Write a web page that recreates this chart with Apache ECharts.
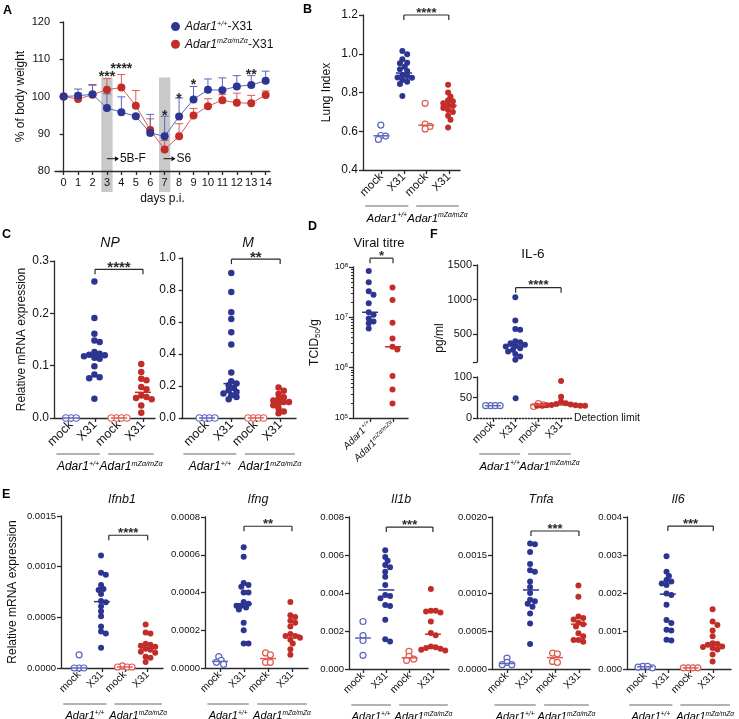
<!DOCTYPE html>
<html>
<head>
<meta charset="utf-8">
<script src="https://cdn.jsdelivr.net/npm/echarts@6/dist/echarts.min.js"></script>
<style>
  html, body { margin: 0; padding: 0; background: #fff; }
  #main { width: 739px; height: 719px; }
</style>
</head>
<body>
<div id="main"></div>
<script>
// ---------- data ----------
// A: body weight (% of day 0), mean and upper end of error bar
const days = [0, 1, 2, 3, 4, 5, 6, 7, 8, 9, 10, 11, 12, 13, 14];
const wtWeight = [100.0, 100.2, 100.6, 96.9, 95.8, 94.7, 90.2, 89.3, 94.6, 99.2, 101.8, 101.7, 102.7, 103.1, 104.2];
const wtWeightTop = [100.0, 102.0, 103.2, 100.7, 99.9, 95.0, 95.2, 94.7, 99.6, 102.7, 104.7, 105.0, 105.6, 105.6, 106.8];
const mzaWeight = [100.0, 99.3, 100.5, 101.8, 102.4, 97.5, 91.0, 85.8, 89.3, 94.9, 97.4, 99.0, 98.3, 98.2, 100.4];
const mzaWeightTop = [100.0, 100.9, 103.0, 104.8, 105.9, 101.6, 94.0, 88.2, 92.7, 96.8, 99.4, 100.5, 100.9, 100.3, 101.5];
const sigDays = [3, 4, 7, 8, 9, 13];
const sigLevel = [106.3, 108.4, 95.8, 100.3, 104.1, 106.8];
const sigText = ['***', '****', '*', '*', '*', '**'];
const shadedDays = [3, 7];
const shadedTop = 105.1;

// B: lung index
const lungWtMock = [0.632, 0.578, 0.575, 0.558];
const lungWtX31 = [1.014, 0.997, 0.971, 0.954, 0.951, 0.933, 0.920, 0.911, 0.890, 0.885, 0.878, 0.876, 0.865, 0.856, 0.844, 0.782];
const lungMzaMock = [0.744, 0.637, 0.625, 0.612];
const lungMzaX31 = [0.84, 0.80, 0.78, 0.76, 0.755, 0.745, 0.735, 0.73, 0.72, 0.71, 0.70, 0.68, 0.66, 0.62];

// C: viral RNA
const npWtMock = [0, 0, 0];
const npWtX31 = [0.261, 0.191, 0.161, 0.148, 0.145, 0.126, 0.123, 0.121, 0.120, 0.118, 0.115, 0.113, 0.099, 0.083, 0.078, 0.076, 0.037];
const npMzaMock = [0, 0, 0, 0];
const npMzaX31 = [0.103, 0.088, 0.075, 0.072, 0.059, 0.055, 0.043, 0.040, 0.038, 0.036, 0.024, 0.010];
const mWtMock = [0, 0, 0, 0];
const mWtX31 = [0.906, 0.787, 0.661, 0.619, 0.536, 0.460, 0.285, 0.230, 0.215, 0.205, 0.188, 0.174, 0.163, 0.153, 0.142, 0.132, 0.117];
const mMzaMock = [0, 0, 0, 0];
const mMzaX31 = [0.19, 0.17, 0.15, 0.13, 0.12, 0.11, 0.10, 0.10, 0.09, 0.08, 0.06, 0.04, 0.03];

// D: viral titre (TCID50/g)
const titreWt = [8.3e7, 5.0e7, 3.3e7, 2.8e7, 1.9e7, 1.26e7, 1.12e7, 9.5e6, 8.3e6, 7.6e6, 6.0e6];
const titreMza = [3.9e7, 2.2e7, 7.8e6, 3.8e6, 2.6e6, 2.3e6, 6.8e5, 3.7e5, 1.95e5];

// F: IL-6 (pg/ml)
const il6pWtMock = [30, 30, 30, 30];
const il6pWtX31 = [1034, 698, 578, 564, 400, 386, 370, 348, 330, 324, 300, 276, 252, 214, 180, 132, 48];
const il6pMzaMock = [28, 32, 35];
const il6pMzaX31 = [90, 52, 40, 36, 34, 33, 32, 31, 31, 30, 30, 30, 30];

// E: cytokine mRNA
const ifnbWtMock = [0.00013, 0, 0, 0];
const ifnbWtX31 = [0.00111, 0.00094, 0.00092, 0.00082, 0.00078, 0.00077, 0.00073, 0.00066, 0.00065, 0.00061, 0.00056, 0.00051, 0.00041, 0.00036, 0.00034, 0.00020];
const ifnbMzaMock = [0.00002, 0.00001, 0.00001, 0.00001];
const ifnbMzaX31 = [0.00043, 0.00035, 0.00034, 0.00024, 0.00023, 0.00022, 0.00021, 0.00019, 0.00018, 0.00016, 0.00015, 0.00011, 0.00010, 0.00006];
const ifngWtMock = [0.00006, 0.00004, 0.00003, 0.00002];
const ifngWtX31 = [0.00064, 0.00059, 0.00045, 0.00044, 0.00043, 0.00040, 0.00040, 0.00035, 0.00034, 0.00033, 0.00033, 0.00032, 0.00031, 0.00024, 0.00020, 0.00013, 0.00013];
const ifngMzaMock = [0.00008, 0.00007, 0.00003, 0.00003];
const ifngMzaX31 = [0.00035, 0.00028, 0.00027, 0.00025, 0.00024, 0.00022, 0.00018, 0.00017, 0.00017, 0.00016, 0.00015, 0.00013, 0.00010, 0.00007];
const il1bWtMock = [0.0025, 0.00176, 0.0015, 0.00072];
const il1bWtX31 = [0.00625, 0.0059, 0.0057, 0.00547, 0.00535, 0.00512, 0.00486, 0.00442, 0.0039, 0.00384, 0.00372, 0.00337, 0.00332, 0.00259, 0.00157, 0.00145];
const il1bMzaMock = [0.00093, 0.00066, 0.00052, 0.00045];
const il1bMzaX31 = [0.00421, 0.00307, 0.00306, 0.00302, 0.00298, 0.0025, 0.00189, 0.00177, 0.00119, 0.00114, 0.0011, 0.00107, 0.00101, 0.00098];
const tnfWtMock = [0.000144, 0.000087, 0.000057, 0.000057];
const tnfWtX31 = [0.00165, 0.00164, 0.00154, 0.00138, 0.0013, 0.00128, 0.00115, 0.00108, 0.00100, 0.00091, 0.00089, 0.00086, 0.00082, 0.00073, 0.0006, 0.00033];
const tnfMzaMock = [0.00021, 0.0002, 0.0001, 0.000087];
const tnfMzaX31 = [0.0011, 0.00095, 0.00069, 0.00067, 0.00065, 0.00061, 0.00059, 0.00056, 0.00047, 0.00043, 0.00038, 0.00038, 0.00036];
const il6WtMock = [0.00007, 0.00005, 0.00003, 0.00007];
const il6WtX31 = [0.00297, 0.00256, 0.00245, 0.00234, 0.0023, 0.00225, 0.00221, 0.00199, 0.00195, 0.00169, 0.00129, 0.00121, 0.00103, 0.00101, 0.00077, 0.00075];
const il6MzaMock = [0.00003, 0.00003, 0.00003, 0.00003];
const il6MzaX31 = [0.00157, 0.00125, 0.00116, 0.00101, 0.00086, 0.00068, 0.00066, 0.00064, 0.00059, 0.00058, 0.00055, 0.00051, 0.00038, 0.0002];

const catNames = ['mock', 'X31', 'mock', 'X31'];
const cats = [1, 2, 3, 4];

// ---------- styles ----------
const BLUE = '#2c3591', BLUE_LT = '#5c66be', RED = '#c32d28', RED_LT = '#de5b52', INK = '#2a2a2a';
const FONT = '"Liberation Sans", Arial, sans-serif';
const GROUPS = [
  { color: BLUE_LT, open: true },
  { color: BLUE, open: false },
  { color: RED_LT, open: true },
  { color: RED, open: false }
];
const genoRich = (fs) => ({
  i: { fontStyle: 'italic', fontSize: fs, fontFamily: FONT, color: '#111' },
  s: { fontStyle: 'italic', fontSize: fs * 0.6, fontFamily: FONT, color: '#111', verticalAlign: 'top', lineHeight: fs * 1.1 },
  n: { fontSize: fs, fontFamily: FONT, color: '#111' }
});
const geno = (sup) => '{i|Adar1}{s|' + sup + '}';

const grids = [], xAxes = [], yAxes = [], series = [], graphics = [], swarmList = [];
let sid = 0;

function median(a) {
  const s = [...a].sort((x, y) => x - y), n = s.length;
  return n % 2 ? s[(n - 1) / 2] : (s[n / 2 - 1] + s[n / 2]) / 2;
}

function axisLineStyle() { return { show: true, lineStyle: { color: INK, width: 1.3 } }; }

function addText(x, y, text, style, rotation) {
  graphics.push({ type: 'text', x: x, y: y, silent: true, rotation: rotation || 0,
    style: Object.assign({ text: text, fill: '#111', fontFamily: FONT, fontSize: 12 }, style) });
}

function addDots(gi, x, vals, st, size) {
  if (!vals.length) return;
  const id = 's' + (sid++);
  series.push({
    id: id, type: 'scatter', xAxisIndex: gi, yAxisIndex: gi, symbol: 'circle', symbolSize: size, z: 4,
    itemStyle: st.open ? { color: '#fff', borderColor: st.color, borderWidth: 1.2, opacity: 1 } : { color: st.color, opacity: 1 },
    data: vals.map(v => [x, v])
  });
  swarmList.push({ id: id, gi: gi, x: x, vals: vals, size: size });
}

function addMedians(gi, items) {
  // items: [x, value, colour]
  series.push({
    id: 's' + (sid++), type: 'custom', xAxisIndex: gi, yAxisIndex: gi, z: 5, silent: true,
    data: items.map(it => [it[0], it[1]]),
    renderItem: (params, api) => {
      const c = api.coord([api.value(0), api.value(1)]);
      return { type: 'line', shape: { x1: c[0] - 8, y1: c[1], x2: c[0] + 8, y2: c[1] },
        style: { stroke: items[params.dataIndex][2], lineWidth: 1.5 } };
    }
  });
}

function addBracket(gi, b, fs) {
  series.push({
    id: 's' + (sid++), type: 'custom', xAxisIndex: gi, yAxisIndex: gi, z: 5, silent: true, clip: false,
    data: [[b[0], b[1], b[2]]],
    renderItem: (params, api) => {
      const a = api.coord([api.value(0), api.value(2)]);
      const c = api.coord([api.value(1), api.value(2)]);
      const ls = { stroke: INK, lineWidth: 1.2 };
      return { type: 'group', children: [
        { type: 'line', shape: { x1: a[0], y1: a[1], x2: c[0], y2: c[1] }, style: ls },
        { type: 'line', shape: { x1: a[0], y1: a[1], x2: a[0], y2: a[1] + 5 }, style: ls },
        { type: 'line', shape: { x1: c[0], y1: c[1], x2: c[0], y2: c[1] + 5 }, style: ls },
        { type: 'text', x: (a[0] + c[0]) / 2, y: a[1] - 5.5 + 0.27 * fs,
          style: { text: b[3], fill: INK, fontFamily: FONT, fontSize: fs, fontWeight: 'bold', align: 'center', verticalAlign: 'middle' } }
      ] };
    }
  });
}

function addGroupLabels(gi, yBase, segs, fs, offLine, offText) {
  series.push({
    id: 's' + (sid++), type: 'custom', xAxisIndex: gi, yAxisIndex: gi, z: 5, silent: true, clip: false,
    data: segs.map(s => [s[0], s[1], yBase]),
    renderItem: (params, api) => {
      const a = api.coord([api.value(0), api.value(2)]);
      const c = api.coord([api.value(1), api.value(2)]);
      return { type: 'group', children: [
        { type: 'line', shape: { x1: a[0], y1: a[1] + offLine, x2: c[0], y2: a[1] + offLine }, style: { stroke: '#666', lineWidth: 1 } },
        { type: 'text', x: (a[0] + c[0]) / 2, y: a[1] + offText,
          style: { text: geno(segs[params.dataIndex][2]), rich: genoRich(fs), fontSize: fs, align: 'center', verticalAlign: 'top' } }
      ] };
    }
  });
}

function catXAxis(gi, xr, fs, show) {
  return {
    gridIndex: gi, type: 'value', min: xr[0], max: xr[1], show: show !== false,
    axisLine: axisLineStyle(),
    axisTick: { show: true, customValues: cats, length: 4, lineStyle: { color: INK, width: 1.3 } },
    axisLabel: { show: true, customValues: cats, rotate: 45, margin: 5, fontSize: fs, color: '#111', fontFamily: FONT,
      formatter: v => catNames[Math.round(v) - 1] },
    splitLine: { show: false }
  };
}

// ---------- dot panels (B, C, E) ----------
function dotPanel(p) {
  const gi = grids.length;
  grids.push({ left: p.box[0], top: p.box[1], width: p.box[2], height: p.box[3], outerBoundsMode: 'none' });
  xAxes.push(catXAxis(gi, p.x, p.rot));
  yAxes.push({
    gridIndex: gi, type: 'value', min: p.y[0], max: p.y[1], interval: p.y[2],
    axisLine: axisLineStyle(),
    axisTick: { show: true, length: 4, lineStyle: { color: INK, width: 1.3 } },
    axisLabel: { fontSize: p.tick, color: '#111', fontFamily: FONT, margin: 5, formatter: v => v.toFixed(p.dig) },
    splitLine: { show: false },
    name: p.yName || '', nameLocation: 'middle', nameGap: p.nameGap || 30,
    nameTextStyle: { fontSize: 12, color: '#111', fontFamily: FONT }
  });
  p.data.forEach((vals, k) => addDots(gi, k + 1, vals, GROUPS[k], p.size));
  addMedians(gi, p.data.map((vals, k) => [k + 1, median(vals), GROUPS[k].color]));
  addBracket(gi, p.bracket, p.star);
  addGroupLabels(gi, p.y[0], [[p.x[0] + 0.1, 2.2, '+/+'], [2.55, p.x[1] - 0.05, 'mZα/mZα']], p.geno, 36, 42);
  if (p.title) addText(p.title[0], p.title[1], p.title[2], { fontSize: p.title[3], fontStyle: p.title[4] || 'italic', align: 'center', verticalAlign: 'middle' });
}

// ---------- A: weight curve ----------
grids.push({ left: 55, top: 22, width: 215, height: 149, outerBoundsMode: 'none' });
xAxes.push({
  gridIndex: 0, type: 'value', min: -0.6, max: 14.3,
  axisLine: axisLineStyle(),
  axisTick: { show: true, customValues: days, length: 4, lineStyle: { color: INK, width: 1.3 } },
  axisLabel: { customValues: days, fontSize: 11, color: '#111', fontFamily: FONT, margin: 6 },
  splitLine: { show: false },
  name: 'days p.i.', nameLocation: 'middle', nameGap: 22, nameTextStyle: { fontSize: 12, color: '#111', fontFamily: FONT }
});
yAxes.push({
  gridIndex: 0, type: 'value', min: 80, max: 120, interval: 10,
  axisLine: axisLineStyle(),
  axisTick: { show: true, length: 4, lineStyle: { color: INK, width: 1.3 } },
  axisLabel: { fontSize: 11, color: '#111', fontFamily: FONT, margin: 5 },
  splitLine: { show: false },
  name: '% of body weight', nameLocation: 'middle', nameGap: 28, nameTextStyle: { fontSize: 12, color: '#111', fontFamily: FONT }
});
series.push({
  id: 's' + (sid++), type: 'custom', xAxisIndex: 0, yAxisIndex: 0, z: -1, silent: true, clip: false,
  data: shadedDays.map(d => [d, shadedTop]),
  renderItem: (params, api) => {
    const a = api.coord([api.value(0) - 0.39, api.value(1)]);
    const b = api.coord([api.value(0) + 0.39, 80]);
    return { type: 'rect', shape: { x: a[0], y: a[1], width: b[0] - a[0], height: b[1] - a[1] + 21 }, style: { fill: '#c9c9c9' } };
  }
});
function errorBars(mean, top, color) {
  series.push({
    id: 's' + (sid++), type: 'custom', xAxisIndex: 0, yAxisIndex: 0, z: 2, silent: true,
    data: days.map((d, i) => [d, mean[i], top[i]]),
    renderItem: (params, api) => {
      if (api.value(2) - api.value(1) < 0.2) return null;
      const a = api.coord([api.value(0), api.value(1)]);
      const b = api.coord([api.value(0), api.value(2)]);
      const ls = { stroke: color, lineWidth: 1 };
      return { type: 'group', children: [
        { type: 'line', shape: { x1: a[0], y1: a[1], x2: b[0], y2: b[1] }, style: ls },
        { type: 'line', shape: { x1: b[0] - 4, y1: b[1], x2: b[0] + 4, y2: b[1] }, style: ls }
      ] };
    }
  });
}
errorBars(mzaWeight, mzaWeightTop, RED_LT);
errorBars(wtWeight, wtWeightTop, BLUE_LT);
series.push({
  id: 's' + (sid++), name: 'mza', type: 'line', xAxisIndex: 0, yAxisIndex: 0, z: 3,
  data: days.map((d, i) => [d, mzaWeight[i]]), symbol: 'circle', symbolSize: 8,
  lineStyle: { color: RED_LT, width: 1 }, itemStyle: { color: RED }
});
series.push({
  id: 's' + (sid++), name: 'wt', type: 'line', xAxisIndex: 0, yAxisIndex: 0, z: 3,
  data: days.map((d, i) => [d, wtWeight[i]]), symbol: 'circle', symbolSize: 8,
  lineStyle: { color: BLUE_LT, width: 1 }, itemStyle: { color: BLUE }
});
series.push({
  id: 's' + (sid++), type: 'custom', xAxisIndex: 0, yAxisIndex: 0, z: 5, silent: true, clip: false,
  data: sigDays.map((d, i) => [d, sigLevel[i]]),
  renderItem: (params, api) => {
    const c = api.coord([api.value(0), api.value(1)]);
    return { type: 'text', x: c[0], y: c[1] + 0.27 * 14,
      style: { text: sigText[params.dataIndex], fill: INK, fontFamily: FONT, fontSize: 14, fontWeight: 'bold', align: 'center', verticalAlign: 'middle' } };
  }
});
const arrowNotes = ['\u2192 5B-F', '\u2192 S6'];
series.push({
  id: 's' + (sid++), type: 'custom', xAxisIndex: 0, yAxisIndex: 0, z: 5, silent: true,
  data: [[3.0, 83.3], [6.92, 83.3]],
  renderItem: (params, api) => {
    const c = api.coord([api.value(0), api.value(1)]);
    return { type: 'group', children: [
      { type: 'line', shape: { x1: c[0], y1: c[1], x2: c[0] + 11, y2: c[1] }, style: { stroke: '#111', lineWidth: 1 } },
      { type: 'polygon', shape: { points: [[c[0] + 12, c[1]], [c[0] + 8, c[1] - 2.5], [c[0] + 8, c[1] + 2.5]] }, style: { fill: '#111' } },
      { type: 'text', x: c[0] + 13, y: c[1],
        style: { text: arrowNotes[params.dataIndex].slice(2), fill: '#111', fontFamily: FONT, fontSize: 12, align: 'left', verticalAlign: 'middle' } }
    ] };
  }
});

// ---------- B ----------
dotPanel({ box: [363, 15, 97, 155], x: [0.18, 4.5], y: [0.4, 1.2, 0.2], dig: 1, tick: 12, rot: 11.5, size: 6,
  data: [lungWtMock, lungWtX31, lungMzaMock, lungMzaX31], yName: 'Lung Index', nameGap: 30,
  bracket: [2, 4, 1.2, '****'], star: 13, geno: 11.5 });

// ---------- C ----------
dotPanel({ box: [54, 261, 101, 157], x: [0.29, 4.5], y: [0, 0.3, 0.1], dig: 1, tick: 12, rot: 12.5, size: 6.5,
  data: [npWtMock, npWtX31, npMzaMock, npMzaX31], yName: 'Relative mRNA expression', nameGap: 26,
  bracket: [2, 4, 0.284, '****'], star: 15, geno: 12, title: [110, 243, 'NP', 14] });
dotPanel({ box: [181, 258, 115, 160], x: [-0.07, 4.65], y: [0, 1.0, 0.2], dig: 1, tick: 12, rot: 12.5, size: 6.5,
  data: [mWtMock, mWtX31, mMzaMock, mMzaX31],
  bracket: [2, 4, 0.993, '**'], star: 15, geno: 12, title: [248, 243, 'M', 14] });

// ---------- D ----------
(function () {
  const gi = grids.length;
  grids.push({ left: 353, top: 267, width: 55, height: 151, outerBoundsMode: 'none' });
  const rich = genoRich(10);
  xAxes.push({
    gridIndex: gi, type: 'value', min: 0.26, max: 2.65,
    axisLine: axisLineStyle(),
    axisTick: { show: true, customValues: [1, 2], length: 4, lineStyle: { color: INK, width: 1.3 } },
    axisLabel: { customValues: [1, 2], rotate: 45, margin: 5, rich: rich,
      formatter: v => Math.round(v) === 1 ? geno('+/+') : geno('mZα/mZα') },
    splitLine: { show: false }
  });
  yAxes.push({
    gridIndex: gi, type: 'log', logBase: 10, min: 1e5, max: 1e8,
    axisLine: axisLineStyle(),
    axisTick: { show: true, length: 4, lineStyle: { color: INK, width: 1.3 } },
    minorTick: { show: true, splitNumber: 9, length: 2, lineStyle: { color: INK, width: 1 } },
    axisLabel: { fontSize: 9, color: '#111', fontFamily: FONT, margin: 5,
      formatter: v => '10{s|' + Math.round(Math.log10(v)) + '}',
      rich: { s: { fontSize: 6, verticalAlign: 'top', lineHeight: 10, fontFamily: FONT, color: '#111' } } },
    splitLine: { show: false },
    name: '{a|TCID}{b|50}{a|/g}', nameLocation: 'middle', nameGap: 31,
    nameTextStyle: { rich: { a: { fontSize: 12, fontFamily: FONT, color: '#111' },
      b: { fontSize: 8, fontFamily: FONT, color: '#111', verticalAlign: 'bottom', lineHeight: 14 } } }
  });
  addDots(gi, 1, titreWt, GROUPS[1], 6);
  addDots(gi, 2, titreMza, GROUPS[3], 6);
  addMedians(gi, [[1, median(titreWt), BLUE], [2, median(titreMza), RED]]);
  addBracket(gi, [1, 2, 1.5e8, '*'], 13);
  addText(379, 243, 'Viral titre', { fontSize: 13, align: 'center', verticalAlign: 'middle' });
})();

// ---------- F ----------
(function () {
  const gU = grids.length, gL = gU + 1;
  const xr = [0.3, 4.48];
  grids.push({ left: 477, top: 265, width: 95, height: 97, outerBoundsMode: 'none' });
  grids.push({ left: 477, top: 377, width: 95, height: 41, outerBoundsMode: 'none' });
  xAxes.push({ gridIndex: gU, type: 'value', min: xr[0], max: xr[1], show: false });
  const xl = catXAxis(gL, xr, 11);
  xl.axisLine = { show: true, lineStyle: { color: INK, width: 1.3, type: [1.5, 1.5] } };
  xAxes.push(xl);
  const yBase = {
    type: 'value', axisLine: axisLineStyle(),
    axisTick: { show: true, length: 4, lineStyle: { color: INK, width: 1.3 } },
    splitLine: { show: false }
  };
  yAxes.push(Object.assign({}, yBase, { gridIndex: gU, min: 100, max: 1500,
    axisTick: { show: true, length: 4, customValues: [100, 500, 1000, 1500], lineStyle: { color: INK, width: 1.3 } },
    axisLabel: { customValues: [500, 1000, 1500], fontSize: 11, color: '#111', fontFamily: FONT, margin: 5, formatter: v => String(v) } }));
  yAxes.push(Object.assign({}, yBase, { gridIndex: gL, min: 0, max: 100, interval: 50,
    axisLabel: { fontSize: 11, color: '#111', fontFamily: FONT, margin: 5, formatter: v => String(v) } }));
  const groups = [il6pWtMock, il6pWtX31, il6pMzaMock, il6pMzaX31];
  const meds = [[], []];
  groups.forEach((vals, k) => {
    addDots(gU, k + 1, vals.filter(v => v > 100), GROUPS[k], 6);
    addDots(gL, k + 1, vals.filter(v => v <= 100), GROUPS[k], 6);
    const m = median(vals);
    meds[m > 100 ? 0 : 1].push([k + 1, m, GROUPS[k].color]);
  });
  addMedians(gU, meds[0]);
  addMedians(gL, meds[1]);
  addBracket(gU, [2, 4, 1173, '****'], 13);
  addGroupLabels(gL, 0, [[xr[0] + 0.1, 2.2, '+/+'], [2.55, xr[1] - 0.05, 'mZα/mZα']], 11.5, 36, 42);
  addText(533, 254, 'IL-6', { fontSize: 13.5, align: 'center', verticalAlign: 'middle' });
  addText(440, 338, 'pg/ml', { fontSize: 12, align: 'center', verticalAlign: 'middle' }, Math.PI / 2);
  addText(574, 418, 'Detection limit', { fontSize: 10.5, align: 'left', verticalAlign: 'middle' });
})();

// ---------- E ----------
const ePanels = [
  { box: [61, 516, 102, 152], x: [0.21, 4.67], y: [0, 0.0015, 0.0005], dig: 4, data: [ifnbWtMock, ifnbWtX31, ifnbMzaMock, ifnbMzaX31],
    yName: 'Relative mRNA expression', nameGap: 42, bracket: [2.3, 4, 0.00131, '****'], title: [122, 500, 'Ifnb1', 12.5] },
  { box: [205, 517, 103, 151], x: [0.375, 4.67], y: [0, 0.0008, 0.0002], dig: 4, data: [ifngWtMock, ifngWtX31, ifngMzaMock, ifngMzaX31],
    bracket: [2, 4, 0.000751, '**'], title: [258, 500, 'Ifng', 12.5] },
  { box: [349, 517, 100, 152], x: [0.4, 4.69], y: [0, 0.008, 0.002], dig: 3, data: [il1bWtMock, il1bWtX31, il1bMzaMock, il1bMzaX31],
    bracket: [2, 4, 0.00747, '***'], title: [401, 500, 'Il1b', 12.5] },
  { box: [492, 517, 98, 152], x: [0.375, 4.46], y: [0, 0.002, 0.0005], dig: 4, data: [tnfWtMock, tnfWtX31, tnfMzaMock, tnfMzaX31],
    bracket: [2, 4, 0.001816, '***'], title: [541, 500, 'Tnfa', 12.5] },
  { box: [627, 517, 104, 152], x: [0.2, 4.78], y: [0, 0.004, 0.001], dig: 3, data: [il6WtMock, il6WtX31, il6MzaMock, il6MzaX31],
    bracket: [2, 4, 0.00376, '***'], title: [678, 500, 'Il6', 12.5] }
];
ePanels.forEach(p => dotPanel(Object.assign({ tick: 9.5, rot: 10.5, size: 6, star: 13, geno: 11 }, p)));

// ---------- panel letters ----------
[['A', 3, 4], ['B', 303, 3], ['C', 2, 228], ['D', 308, 220], ['F', 430, 228], ['E', 2, 488]].forEach(l =>
  addText(l[1], l[2], l[0], { fontSize: 12.5, fontWeight: 'bold', align: 'left', verticalAlign: 'top', fill: '#000' }));

const legendRich = genoRich(12);
const chart = echarts.init(document.getElementById('main'), null, { renderer: 'canvas' });
chart.setOption({
  animation: false,
  backgroundColor: '#fff',
  textStyle: { fontFamily: FONT },
  grid: grids,
  xAxis: xAxes,
  yAxis: yAxes,
  legend: {
    data: ['wt', 'mza'], orient: 'vertical', left: 166, top: 15, itemGap: 5,
    icon: 'circle', itemWidth: 9, itemHeight: 9,
    textStyle: { fontSize: 12, rich: legendRich },
    formatter: n => n === 'wt' ? '{i|Adar1}{s|+/+}{n|-X31}' : '{i|Adar1}{s|mZα/mZα}{n|-X31}'
  },
  graphic: graphics,
  series: series
});

// ---------- beeswarm offsets (pixel space) ----------
function swarm(ys, d) {
  const order = ys.map((y, i) => i).sort((a, b) => ys[a] - ys[b]);
  const placed = [], off = new Array(ys.length).fill(0);
  const step = d * 0.4;
  order.forEach(i => {
    for (let k = 0; k < 40; k++) {
      const c = k === 0 ? 0 : (k % 2 ? 1 : -1) * Math.ceil(k / 2) * step;
      if (placed.every(p => Math.hypot(p[0] - c, p[1] - ys[i]) >= d * 0.72)) { off[i] = c; break; }
    }
    placed.push([off[i], ys[i]]);
  });
  const mean = off.reduce((s, v) => s + v, 0) / (off.length || 1);
  return off.map(v => v - mean);
}
chart.setOption({
  series: swarmList.map(s => {
    const ys = s.vals.map(v => chart.convertToPixel({ gridIndex: s.gi }, [s.x, v])[1]);
    const off = swarm(ys, s.size);
    return { id: s.id, data: s.vals.map((v, i) => ({ value: [s.x, v], symbolOffset: [off[i], 0] })) };
  })
});
</script>
</body>
</html>
